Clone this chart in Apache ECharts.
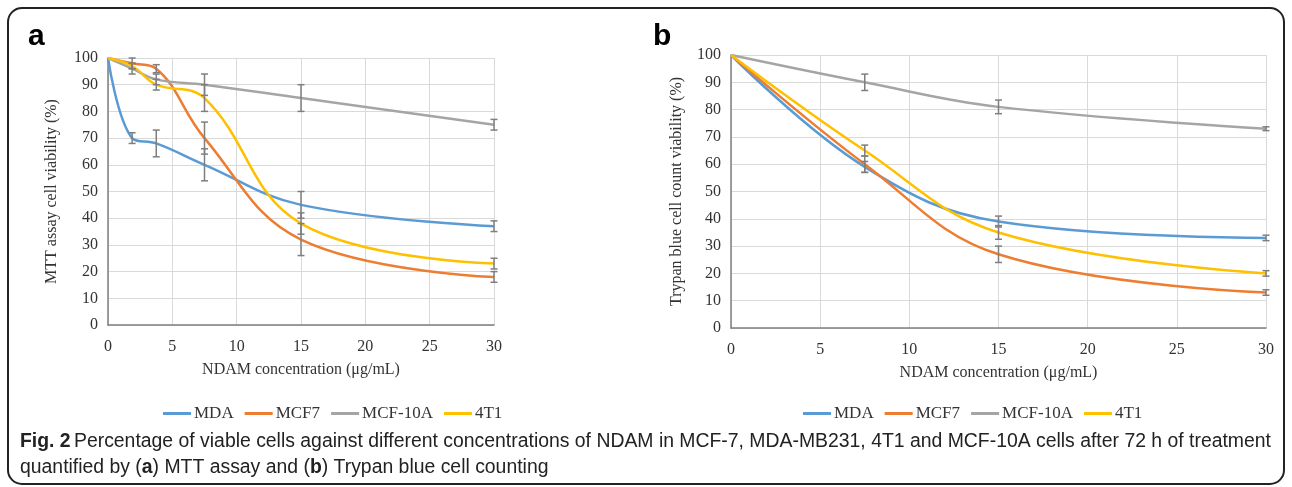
<!DOCTYPE html>
<html><head><meta charset="utf-8">
<script src="https://cdn.jsdelivr.net/npm/echarts@6/dist/echarts.min.js"></script>
<style>html,body{margin:0;padding:0;background:#fff}#c{width:1292px;height:487px}</style>
</head><body><div id="c"></div>
<script>
// Panel a: MTT assay
const xA = [0, 1.875, 3.75, 7.5, 15, 30];
const mttMDA = [100, 70, 68, 60, 45, 37];
const mttMDAerr = [0, 2, 5, 6, 5, 2];
const mttMCF7 = [100, 98, 96, 70, 32, 18];
const mttMCF7err = [0, 2, 1.5, 6, 6, 2];
const mttMCF10A = [100, 96, 92, 90, 85, 75];
const mttMCF10Aerr = [0, 2, 2, 4, 5, 2];
const mtt4T1 = [100, 97, 90, 85, 38, 23];
const mtt4T1err = [0, 1, 2, 5, 4, 2];
// Panel b: Trypan blue
const xB = [0, 7.5, 15, 30];
const tbMDA = [100, 59, 39, 33];
const tbMDAerr = [0, 2, 2, 1];
const tbMCF7 = [100, 60, 27, 13];
const tbMCF7err = [0, 3, 3, 1];
const tbMCF10A = [100, 90, 81, 73];
const tbMCF10Aerr = [0, 3, 2.5, 0.7];
const tb4T1 = [100, 65, 35, 20];
const tb4T1err = [0, 2, 2.5, 1];
const seriesNames = ['MDA', 'MCF7', 'MCF-10A', '4T1'];
const colors = ['#5B9BD5', '#ED7D31', '#A5A5A5', '#FFC000'];

const chart = echarts.init(document.getElementById('c'));
const serif = 'Liberation Serif';

function lineSeries(name, xs, ys, idx, color) {
  return { name, type: 'line', xAxisIndex: idx, yAxisIndex: idx, smooth: 0.4,
    showSymbol: false, symbol: 'none', data: xs.map((x, i) => [x, ys[i]]),
    lineStyle: { color, width: 2.5 }, itemStyle: { color }, z: 3 };
}
function errSeries(xs, ys, es, idx) {
  return { type: 'custom', xAxisIndex: idx, yAxisIndex: idx, z: 5, silent: true,
    data: xs.map((x, i) => [x, ys[i] - es[i], ys[i] + es[i]]).filter((d, i) => es[i] > 0),
    renderItem: function (params, api) {
      const lo = api.coord([api.value(0), api.value(1)]);
      const hi = api.coord([api.value(0), api.value(2)]);
      const st = { stroke: '#7f7f7f', lineWidth: 1.5 };
      const w = 3.5;
      return { type: 'group', children: [
        { type: 'line', shape: { x1: lo[0], y1: lo[1], x2: hi[0], y2: hi[1] }, style: st },
        { type: 'line', shape: { x1: lo[0] - w, y1: lo[1], x2: lo[0] + w, y2: lo[1] }, style: st },
        { type: 'line', shape: { x1: hi[0] - w, y1: hi[1], x2: hi[0] + w, y2: hi[1] }, style: st }
      ]};
    }
  };
}
function xAxis(idx) {
  return { type: 'value', gridIndex: idx, min: 0, max: 30, interval: 5,
    name: 'NDAM concentration (\u03bcg/mL)', nameLocation: 'middle', nameGap: 37,
    nameTextStyle: { fontFamily: serif, fontSize: 16, color: '#333' },
    axisLine: { show: true, lineStyle: { color: '#7f7f7f', width: 1.5 } },
    axisTick: { show: false },
    axisLabel: { fontFamily: serif, fontSize: 16, color: '#333', margin: 14 },
    splitLine: { show: true, lineStyle: { color: '#d9d9d9', width: 1 } } };
}
function yAxis(idx, name, gap) {
  return { type: 'value', gridIndex: idx, min: 0, max: 100, interval: 10,
    name, nameLocation: 'middle', nameGap: gap,
    nameTextStyle: { fontFamily: serif, fontSize: 16, color: '#333' },
    axisLine: { show: true, lineStyle: { color: '#7f7f7f', width: 1.5 } },
    axisTick: { show: false },
    axisLabel: { fontFamily: serif, fontSize: 16, color: '#333', margin: 10 },
    splitLine: { show: true, lineStyle: { color: '#d9d9d9', width: 1 } } };
}
const legendBase = { data: seriesNames, icon: 'rect', itemWidth: 28, itemHeight: 3, itemGap: 11,
  textStyle: { fontFamily: serif, fontSize: 17, color: '#333', padding: [0, 0, 0, -2] } };

const series = [];
const mtt = [mttMDA, mttMCF7, mttMCF10A, mtt4T1];
const mttE = [mttMDAerr, mttMCF7err, mttMCF10Aerr, mtt4T1err];
const tb = [tbMDA, tbMCF7, tbMCF10A, tb4T1];
const tbE = [tbMDAerr, tbMCF7err, tbMCF10Aerr, tb4T1err];
seriesNames.forEach((n, i) => series.push(lineSeries(n, xA, mtt[i], 0, colors[i])));
seriesNames.forEach((n, i) => series.push(lineSeries(n, xB, tb[i], 1, colors[i])));
seriesNames.forEach((n, i) => series.push(errSeries(xA, mtt[i], mttE[i], 0)));
seriesNames.forEach((n, i) => series.push(errSeries(xB, tb[i], tbE[i], 1)));

const capFont = '"Liberation Sans", sans-serif';
chart.setOption({
  animation: false,
  grid: [
    { left: 108, right: 798, top: 58, bottom: 162 },
    { left: 731, right: 26, top: 55, bottom: 159 }
  ],
  xAxis: [xAxis(0), xAxis(1)],
  yAxis: [yAxis(0, 'MTT assay cell viability (%)', 48), yAxis(1, 'Trypan blue cell count viability (%)', 46)],
  legend: [
    Object.assign({}, legendBase, { left: 158, top: 400 }),
    Object.assign({}, legendBase, { left: 798, top: 400 })
  ],
  graphic: [
    { type: 'rect', shape: { x: 8, y: 8, width: 1276, height: 476, r: 14 }, style: { fill: 'none', stroke: '#222', lineWidth: 2 }, silent: true },
    { type: 'text', left: 28, top: 22, style: { text: 'a', font: 'bold 30px "Liberation Sans", Arial', fill: '#000' } },
    { type: 'text', left: 653, top: 22, style: { text: 'b', font: 'bold 30px "Liberation Sans", Arial', fill: '#000' } },
    { type: 'text', left: 20, top: 432, style: {
        rich: { b: { font: 'bold 19.4px ' + capFont, fill: '#222' },
                n: { font: '19.4px ' + capFont, fill: '#222' } },
        text: '{b|Fig. 2} {n|Percentage of viable cells against different concentrations of NDAM in MCF-7, MDA-MB231, 4T1 and MCF-10A cells after 72 h of treatment}' } },
    { type: 'text', left: 20, top: 458, style: {
        rich: { b: { font: 'bold 19.4px ' + capFont, fill: '#222' },
                n: { font: '19.4px ' + capFont, fill: '#222' } },
        text: '{n|quantified by (}{b|a}{n|) MTT assay and (}{b|b}{n|) Trypan blue cell counting}' } }
  ],
  series
});
</script></body></html>
